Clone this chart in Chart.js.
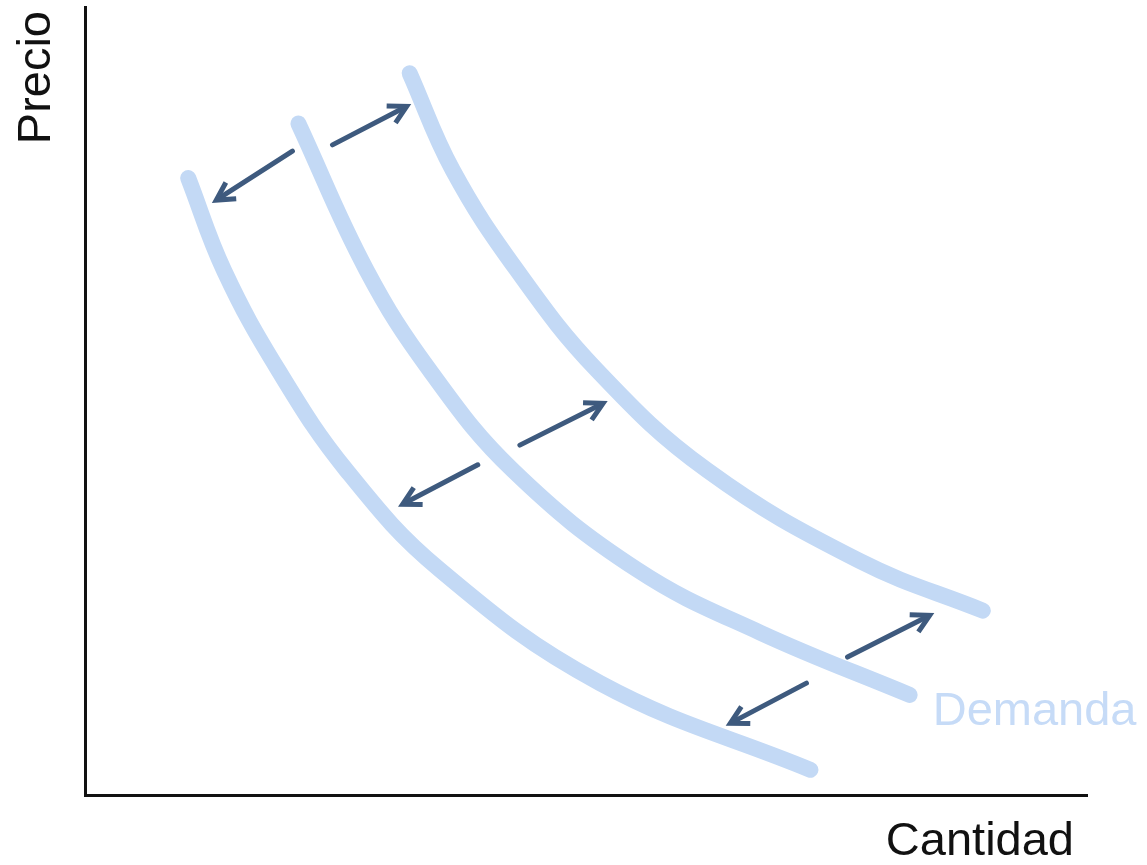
<!DOCTYPE html>
<html>
<head>
<meta charset="utf-8">
<script src="https://cdn.jsdelivr.net/npm/chart.js@4/dist/chart.umd.min.js"></script>
<style>
  html, body { margin: 0; padding: 0; background: #fff; }
  #wrap { width: 1147px; height: 865px; }
</style>
</head>
<body>
<div id="wrap"><canvas id="shiftChart"></canvas></div>
<script>
// demand curves (cantidad 0-100, precio 0-100)
const demandaIzq = [
  {x: 10.3, y: 78.3}, {x: 13.9, y: 66.5}, {x: 19.3, y: 53.9}, {x: 26.1, y: 41.2},
  {x: 35.4, y: 28.6}, {x: 51.4, y: 14.2}, {x: 72.4, y: 3.2}
];
const demandaMedia = [
  {x: 21.3, y: 85.2}, {x: 28.1, y: 66.6}, {x: 34.4, y: 53.9}, {x: 42.7, y: 41.2},
  {x: 55.1, y: 28.6}, {x: 67.4, y: 20.6}, {x: 82.3, y: 12.7}
];
const demandaDer = [
  {x: 32.4, y: 91.6}, {x: 36.7, y: 79.3}, {x: 43.1, y: 66.6}, {x: 51.1, y: 53.9},
  {x: 62.1, y: 41.2}, {x: 77.3, y: 29.7}, {x: 89.6, y: 23.4}
];

// shift arrows: [tail, tip]
const flechas = [
  [{x: 20.7, y: 81.7}, {x: 13.1, y: 75.5}],
  [{x: 24.7, y: 82.5}, {x: 32.1, y: 87.4}],
  [{x: 39.2, y: 41.9}, {x: 31.7, y: 36.9}],
  [{x: 43.4, y: 44.4}, {x: 51.7, y: 49.7}],
  [{x: 72.0, y: 14.2}, {x: 64.4, y: 9.1}],
  [{x: 76.1, y: 17.5}, {x: 84.3, y: 22.8}]
];

const etiquetaDemanda = {x: 84.6, y: 8.9, text: 'Demanda'};
const tituloX = 'Cantidad';
const tituloY = 'Precio';

const curveColor = '#c3d9f5';
const arrowColor = '#3e5a7e';
const font = '47px "Liberation Sans", Arial, sans-serif';

function curve(data) {
  return {
    data: data,
    borderColor: curveColor,
    borderWidth: 16,
    borderCapStyle: 'round',
    borderJoinStyle: 'round',
    tension: 0.4,
    pointRadius: 0,
    showLine: true,
    fill: false
  };
}

const arrowsPlugin = {
  id: 'arrows',
  afterDatasetsDraw(chart) {
    const {ctx, scales: {x, y}} = chart;
    ctx.save();
    ctx.strokeStyle = arrowColor;
    ctx.lineWidth = 5;
    flechas.forEach(([a, b]) => {
      const x1 = x.getPixelForValue(a.x), y1 = y.getPixelForValue(a.y);
      const x2 = x.getPixelForValue(b.x), y2 = y.getPixelForValue(b.y);
      const ang = Math.atan2(y2 - y1, x2 - x1);
      ctx.lineCap = 'round';
      ctx.beginPath();
      ctx.moveTo(x1, y1);
      ctx.lineTo(x2 - 3 * Math.cos(ang), y2 - 3 * Math.sin(ang));
      ctx.stroke();
      const len = 20, spread = 0.5;
      ctx.lineCap = 'butt';
      ctx.lineJoin = 'miter';
      ctx.beginPath();
      ctx.moveTo(x2 - len * Math.cos(ang - spread), y2 - len * Math.sin(ang - spread));
      ctx.lineTo(x2, y2);
      ctx.lineTo(x2 - len * Math.cos(ang + spread), y2 - len * Math.sin(ang + spread));
      ctx.stroke();
    });
    ctx.restore();
  }
};

const labelsPlugin = {
  id: 'labels',
  afterDraw(chart) {
    const {ctx, chartArea, scales: {x, y}} = chart;
    ctx.save();
    ctx.font = font;
    ctx.textBaseline = 'alphabetic';
    // Demanda, next to the middle curve
    ctx.fillStyle = '#c6dbf7';
    ctx.textAlign = 'left';
    ctx.fillText(etiquetaDemanda.text, x.getPixelForValue(etiquetaDemanda.x), y.getPixelForValue(etiquetaDemanda.y));
    // axis titles
    ctx.fillStyle = '#111';
    ctx.textAlign = 'right';
    ctx.fillText(tituloX, chartArea.right - 13, chartArea.bottom + 60);
    ctx.translate(chartArea.left - 35, chartArea.top + 4);
    ctx.rotate(-Math.PI / 2);
    ctx.fillText(tituloY, 0, 0);
    ctx.restore();
  }
};

const shiftChart = new Chart(document.getElementById('shiftChart'), {
  type: 'scatter',
  data: {
    datasets: [curve(demandaIzq), curve(demandaMedia), curve(demandaDer)]
  },
  options: {
    responsive: true,
    maintainAspectRatio: false,
    animation: false,
    layout: {
      padding: {left: 85, right: 60, top: 7, bottom: 70}
    },
    plugins: {
      legend: {display: false},
      tooltip: {enabled: false}
    },
    scales: {
      x: {
        type: 'linear',
        min: 0,
        max: 100,
        ticks: {display: false},
        grid: {display: false, drawTicks: false},
        border: {display: true, color: '#111', width: 3}
      },
      y: {
        type: 'linear',
        min: 0,
        max: 100,
        ticks: {display: false},
        grid: {display: false, drawTicks: false},
        border: {display: true, color: '#111', width: 3}
      }
    }
  },
  plugins: [arrowsPlugin, labelsPlugin]
});
</script>
</body>
</html>
